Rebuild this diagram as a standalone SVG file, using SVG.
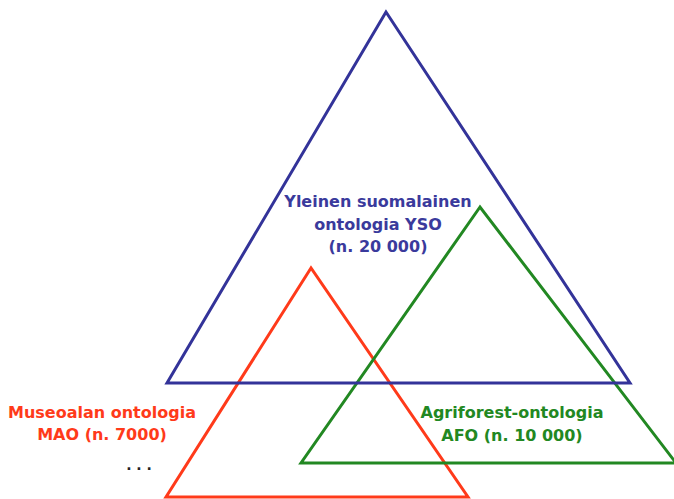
<svg xmlns="http://www.w3.org/2000/svg" width="674" height="499" viewBox="0 0 674 499">
  <style>
    .tri { fill: none; stroke-width: 3; stroke-linejoin: miter; }
    .lbl { font-family: "DejaVu Sans", "Liberation Sans", sans-serif; font-weight: bold; font-size: 16px; text-anchor: middle; }
    .yso { stroke: #333399; }
    .afo { stroke: #228822; }
    .mao { stroke: #ff3a1a; }
  </style>
  <rect width="674" height="499" fill="#ffffff"/>
  <g id="connectors"/>
  <g id="mao">
    <polygon class="tri mao" points="311,268 166,497 468,497"/>
    <text class="lbl" fill="#ff3a1a" x="102" y="418">Museoalan ontologia</text>
    <text class="lbl" fill="#ff3a1a" x="102" y="440">MAO (n. 7000)</text>
  </g>
  <g id="afo">
    <polygon class="tri afo" points="480,207 301,463 676,463"/>
    <text class="lbl" fill="#228822" x="512" y="418">Agriforest-ontologia</text>
    <text class="lbl" fill="#228822" x="512" y="441">AFO (n. 10 000)</text>
  </g>
  <g id="yso">
    <polygon class="tri yso" points="386,12 167,383 630,383"/>
    <text class="lbl" fill="#3a3a9c" x="378" y="207">Yleinen suomalainen</text>
    <text class="lbl" fill="#3a3a9c" x="378" y="230">ontologia YSO</text>
    <text class="lbl" fill="#3a3a9c" x="378" y="252">(n. 20 000)</text>
  </g>
  <g id="more">
    <text x="139" y="470" font-family="DejaVu Sans, sans-serif" font-weight="bold" font-size="14" fill="#222222" text-anchor="middle">. . .</text>
  </g>
</svg>
